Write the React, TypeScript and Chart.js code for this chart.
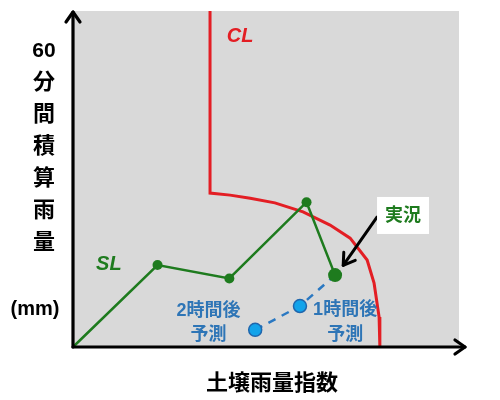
import React, { useEffect, useRef } from 'react';
import { Chart, registerables } from 'chart.js';

Chart.register(...registerables);

// Critical line (CL)
const clX = [35.5, 35.5, 40.7, 45.9, 52.3, 59.6, 66.6, 71.8, 76.2, 78.0, 79.3, 79.5];
const clY = [100, 45.8, 45.2, 44.3, 42.9, 40.2, 36.3, 32.4, 25.9, 19.0, 8.9, 0];

// Snake line (SL), last point = 実況
const slX = [0, 21.9, 40.5, 60.5, 67.9];
const slY = [0, 24.4, 20.4, 43.1, 21.4];
const slRadius = [0, 5, 5, 5, 7];

// Forecast: 2時間後, 1時間後, 実況
const fcX = [47.2, 58.8, 67.9];
const fcY = [5.1, 12.2, 21.4];
const fcRadius = [6.5, 6.5, 0];

// Texts in data coordinates
const clLabel = { text: 'CL', x: 43.3, y: 92.3 };
const slLabel = { text: 'SL', x: 9.3, y: 24.6 };
const fc2Label = { lines: ['2時間後', '予測'], x: 35.1, y: [10.7, 3.6] };
const fc1Label = { lines: ['1時間後', '予測'], x: 70.5, y: [10.9, 3.6] };
const obsLabel = { text: '実況', x: 85.5, y: 39.3 };
const obsArrow = { x1: 78.8, y1: 38.7, x2: 70.0, y2: 24.3 };

const yTitle = ['60', '分', '間', '積', '算', '雨', '量'];
const yTitleUnit = '(mm)';
const xTitle = '土壌雨量指数';

const FONT = '"Liberation Sans", "Noto Sans CJK JP", sans-serif';

function chevron(ctx: CanvasRenderingContext2D, tx: number, ty: number, angle: number, len: number, half: number) {
  const bx = tx - Math.cos(angle) * len;
  const by = ty - Math.sin(angle) * len;
  const px = -Math.sin(angle) * half;
  const py = Math.cos(angle) * half;
  ctx.beginPath();
  ctx.moveTo(bx + px, by + py);
  ctx.lineTo(tx, ty);
  ctx.lineTo(bx - px, by - py);
  ctx.stroke();
}

const decor = {
  id: 'decor',
  beforeDatasetsDraw(chart: any) {
    const { ctx, chartArea: a } = chart;
    ctx.save();
    ctx.fillStyle = '#d9d9d9';
    ctx.fillRect(a.left, a.top, a.right - a.left, a.bottom - a.top);
    ctx.restore();
  },
  afterDatasetsDraw(chart: any) {
    const { ctx, chartArea: a } = chart;
    const xs = chart.scales.x;
    const ys = chart.scales.y;
    const X = (v: number) => xs.getPixelForValue(v);
    const Y = (v: number) => ys.getPixelForValue(v);
    ctx.save();
    // axes
    ctx.strokeStyle = '#000';
    ctx.lineWidth = 3.2;
    ctx.lineCap = 'round';
    ctx.lineJoin = 'round';
    ctx.beginPath();
    ctx.moveTo(a.left, a.bottom);
    ctx.lineTo(a.left, a.top + 1);
    ctx.stroke();
    chevron(ctx, a.left, a.top + 1, -Math.PI / 2, 10, 7);
    ctx.beginPath();
    ctx.moveTo(a.left, a.bottom);
    ctx.lineTo(a.right + 6, a.bottom);
    ctx.stroke();
    chevron(ctx, a.right + 6, a.bottom, 0, 10, 7);

    // 実況 arrow
    ctx.lineWidth = 3;
    ctx.beginPath();
    ctx.moveTo(X(obsArrow.x1), Y(obsArrow.y1));
    ctx.lineTo(X(obsArrow.x2), Y(obsArrow.y2));
    ctx.stroke();
    const ang = Math.atan2(Y(obsArrow.y2) - Y(obsArrow.y1), X(obsArrow.x2) - X(obsArrow.x1));
    chevron(ctx, X(obsArrow.x2), Y(obsArrow.y2), ang, 11, 7);

    // 実況 box
    const bx = X(obsLabel.x);
    const by = Y(obsLabel.y);
    ctx.fillStyle = '#ffffff';
    ctx.fillRect(bx - 26, by - 18, 52, 37);
    ctx.fillStyle = '#1e7b1e';
    ctx.font = 'bold 18px ' + FONT;
    ctx.textAlign = 'center';
    ctx.textBaseline = 'middle';
    ctx.fillText(obsLabel.text, bx, by + 1);

    // CL / SL
    ctx.font = 'italic bold 20px ' + FONT;
    ctx.fillStyle = '#e31e24';
    ctx.fillText(clLabel.text, X(clLabel.x), Y(clLabel.y));
    ctx.fillStyle = '#1e7b1e';
    ctx.fillText(slLabel.text, X(slLabel.x), Y(slLabel.y));

    // forecast labels
    ctx.font = 'bold 18px ' + FONT;
    ctx.fillStyle = '#2e75b6';
    [fc2Label, fc1Label].forEach((l) => {
      l.lines.forEach((t, i) => ctx.fillText(t, X(l.x), Y(l.y[i])));
    });

    // axis titles
    ctx.fillStyle = '#000';
    ctx.font = 'bold 22px ' + FONT;
    yTitle.forEach((t, i) => {
      ctx.font = (i === 0 ? 'bold 21px ' : 'bold 22px ') + FONT;
      ctx.fillText(t, 44, 51 + i * 32);
    });
    ctx.font = 'bold 20px ' + FONT;
    ctx.fillText(yTitleUnit, 35, 309);
    ctx.font = 'bold 22px ' + FONT;
    ctx.fillText(xTitle, 272, 384);
    ctx.restore();
  },
};

export default function App() {
  const ref = useRef<HTMLCanvasElement>(null);
  useEffect(() => {
    if (!ref.current) return;
    const pts = (xs: number[], ys: number[]) => xs.map((x, i) => ({ x, y: ys[i] }));
    const chart = new Chart(ref.current, {
      type: 'line',
      data: {
        datasets: [
          {
            label: 'SL',
            data: pts(slX, slY),
            borderColor: '#1e7b1e',
            backgroundColor: '#1e7b1e',
            borderWidth: 2.5,
            pointRadius: slRadius,
            pointBorderWidth: 0,
            pointBackgroundColor: '#1e7b1e',
            tension: 0,
            clip: false,
            order: 0,
          } as any,
          {
            label: '予測',
            data: pts(fcX, fcY),
            borderColor: '#2a78c2',
            borderWidth: 2.5,
            borderDash: [8, 7],
            pointRadius: fcRadius,
            pointBackgroundColor: '#12a3ea',
            pointBorderColor: '#1f66ad',
            pointBorderWidth: 1.5,
            tension: 0,
            clip: false,
            order: 1,
          } as any,
          {
            label: 'CL',
            data: pts(clX, clY),
            borderColor: '#e31e24',
            borderWidth: 3,
            pointRadius: 0,
            tension: 0,
            clip: false,
            order: 2,
          } as any,
        ],
      },
      options: {
        responsive: false,
        animation: false,
        devicePixelRatio: 1,
        layout: { padding: { left: 73, top: 11, right: 41, bottom: 53 } },
        plugins: { legend: { display: false }, tooltip: { enabled: false } },
        scales: {
          x: { type: 'linear', min: 0, max: 100, display: false },
          y: { type: 'linear', min: 0, max: 100, display: false },
        },
      },
      plugins: [decor],
    });
    return () => chart.destroy();
  }, []);
  return (
    <div style={{ position: 'absolute', left: 0, top: 0, width: 500, height: 400, background: '#fff' }}>
      <canvas ref={ref} width={500} height={400} style={{ display: 'block' }} />
    </div>
  );
}
